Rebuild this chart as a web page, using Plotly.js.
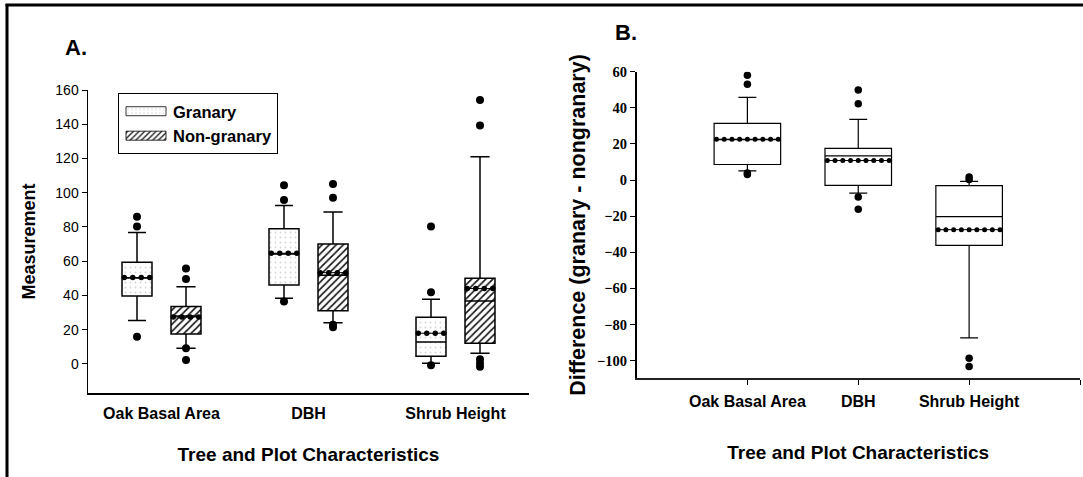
<!DOCTYPE html>
<html>
<head>
<meta charset="utf-8">
<script src="https://cdn.plot.ly/plotly-3.0.1.min.js"></script>
<style>html,body{margin:0;padding:0;background:#fff;}#chart{width:1083px;height:477px;}</style>
</head>
<body>
<div id="chart"></div>
<script>
// ---------- data ----------
const categories = ['Oak Basal Area', 'DBH', 'Shrub Height'];
const seriesNames = ['Granary', 'Non-granary'];

// Panel A: granary
const granQ1 = [39.7, 46.1, 4.5];
const granMedian = [50.2, 64.2, 12.8];
const granQ3 = [59.4, 79.0, 27.3];
const granLow = [25.3, 38.4, 0.4];
const granHigh = [76.7, 92.5, 37.8];
const granMean = [50.4, 64.6, 17.9];
const granOutliers = [[86.0, 80.2, 15.9], [104.3, 95.8, 36.4], [80.2, 41.9, -0.8]];

// Panel A: non-granary
const nonQ1 = [17.5, 31.1, 12.1];
const nonMedian = [28.0, 51.8, 36.8];
const nonQ3 = [33.5, 70.1, 50.0];
const nonLow = [9.2, 24.1, 6.2];
const nonHigh = [45.1, 88.8, 121.0];
const nonMean = [27.4, 53.3, 44.0];
const nonOutliers = [[55.7, 49.6, 9.2, 2.3], [105.1, 97.1, 22.8, 21.4], [154.2, 139.2, 2.7, 0.4, -1.6]];

// Panel B: difference (granary - nongranary)
const diffQ1 = [8.6, -2.9, -36.2];
const diffMedian = [22.4, 13.4, -20.3];
const diffQ3 = [31.4, 17.5, -3.1];
const diffLow = [5.1, -7.2, -87.4];
const diffHigh = [45.8, 33.6, -0.7];
const diffMean = [22.6, 10.8, -27.5];
const diffOutliers = [[58.0, 53.0, 3.9, 3.0], [49.8, 42.2, -9.4, -16.2], [1.7, 0.3, -98.7, -103.3]];

// ---------- helpers ----------
const idx = categories.map((c, i) => i);
const offA = 1 / 6, widthA = 0.204, widthB = 0.6;
const posGran = idx.map(i => i - offA);
const posNon = idx.map(i => i + offA);

function meanDots(centers, width, means, n, span) {
  const xs = [], ys = [];
  centers.forEach((c, i) => {
    for (let k = 0; k < n; k++) {
      xs.push(c - span * width / 2 + k * span * width / (n - 1));
      ys.push(means[i]);
    }
    xs.push(null); ys.push(null);
  });
  return {xs, ys};
}
function flatOutliers(centers, outs) {
  const xs = [], ys = [];
  centers.forEach((c, i) => outs[i].forEach(v => { xs.push(c); ys.push(v); }));
  return {xs, ys};
}

const black = '#000';
const traces = [];

// pattern fills (legend entries) for panel A
traces.push({
  type: 'bar', name: seriesNames[0], x: posGran, base: granQ1,
  y: granQ3.map((v, i) => v - granQ1[i]), width: widthA,
  marker: {color: '#fff', line: {width: 0},
           pattern: {shape: '.', fgcolor: '#d4d4d4', bgcolor: '#fff', size: 5, solidity: 0.1}},
  xaxis: 'x', yaxis: 'y', hoverinfo: 'skip'
});
traces.push({
  type: 'bar', name: seriesNames[1], x: posNon, base: nonQ1,
  y: nonQ3.map((v, i) => v - nonQ1[i]), width: widthA,
  marker: {color: '#fff', line: {width: 0},
           pattern: {shape: '/', fgcolor: '#111', bgcolor: '#fff', size: 5, solidity: 0.32}},
  xaxis: 'x', yaxis: 'y', hoverinfo: 'skip'
});

// boxes panel A
function boxTrace(pos, q1, med, q3, lo, hi, w, ww, lw, fill, xa, ya) {
  return {type: 'box', x: pos, q1: q1, median: med, q3: q3, lowerfence: lo, upperfence: hi,
          width: w, whiskerwidth: ww, boxpoints: false, fillcolor: fill,
          line: {color: black, width: lw}, showlegend: false, xaxis: xa, yaxis: ya, hoverinfo: 'skip'};
}
traces.push(boxTrace(posGran, granQ1, granMedian, granQ3, granLow, granHigh, widthA, 0.6, 1.5, 'rgba(0,0,0,0)', 'x', 'y'));
traces.push(boxTrace(posNon, nonQ1, nonMedian, nonQ3, nonLow, nonHigh, widthA, 0.64, 1.5, 'rgba(0,0,0,0)', 'x', 'y'));
// box panel B
traces.push(boxTrace(idx, diffQ1, diffMedian, diffQ3, diffLow, diffHigh, widthB, 0.27, 1.2, '#fff', 'x2', 'y2'));

// mean dotted lines
function meanTrace(centers, width, means, n, span, size, xa, ya) {
  const d = meanDots(centers, width, means, n, span);
  return {type: 'scatter', mode: 'lines+markers', x: d.xs, y: d.ys, connectgaps: false,
          line: {color: black, width: 1}, marker: {color: black, size: size},
          showlegend: false, xaxis: xa, yaxis: ya, hoverinfo: 'skip'};
}
traces.push(meanTrace(posGran, widthA, granMean, 4, 0.85, 5.5, 'x', 'y'));
traces.push(meanTrace(posNon, widthA, nonMean, 4, 0.85, 5.5, 'x', 'y'));
traces.push(meanTrace(idx, widthB, diffMean, 9, 0.93, 5, 'x2', 'y2'));

// outliers
function outTrace(centers, outs, size, xa, ya) {
  const d = flatOutliers(centers, outs);
  return {type: 'scatter', mode: 'markers', x: d.xs, y: d.ys,
          marker: {color: black, size: size}, showlegend: false, xaxis: xa, yaxis: ya, hoverinfo: 'skip'};
}
traces.push(outTrace(posGran, granOutliers, 8, 'x', 'y'));
traces.push(outTrace(posNon, nonOutliers, 8, 'x', 'y'));
traces.push(outTrace(idx, diffOutliers, 7.5, 'x2', 'y2'));

const W = 1083, H = 477;
const sans = 'Liberation Sans, Arial, sans-serif';
const serif = 'Liberation Serif, Times New Roman, serif';

const layout = {
  width: W, height: H,
  margin: {l: 0, r: 0, t: 0, b: 0},
  paper_bgcolor: '#fff', plot_bgcolor: 'rgba(0,0,0,0)',
  barmode: 'overlay',
  font: {family: sans, color: black},
  showlegend: true,
  legend: {
    x: 118 / W, y: 1 - 93 / H, xanchor: 'left', yanchor: 'top',
    bgcolor: '#fff', bordercolor: black, borderwidth: 1,
    font: {family: sans, size: 16.5, weight: 'bold', color: black},
    itemwidth: 44, traceorder: 'normal', tracegroupgap: 0
  },
  xaxis: {
    domain: [88 / W, 529 / W], range: [-0.5, 2.5],
    tickvals: idx, ticktext: categories, ticks: '',
    tickfont: {family: sans, size: 16, weight: 'bold', color: black},
    ticklabelstandoff: 5,
    showline: true, linecolor: black, linewidth: 1.8, showgrid: false, zeroline: false,
    anchor: 'y',
    title: {text: 'Tree and Plot Characteristics', font: {family: sans, size: 19, weight: 'bold', color: black}, standoff: 27}
  },
  yaxis: {
    domain: [1 - 393 / H, 1 - 90 / H], range: [-17, 160],
    tick0: 0, dtick: 20, ticks: 'outside', ticklen: 5, tickcolor: black, tickwidth: 1,
    tickfont: {family: sans, size: 14, color: black},
    showline: true, linecolor: black, linewidth: 1.5, showgrid: false, zeroline: false,
    anchor: 'x',
    title: {text: 'Measurement', font: {family: sans, size: 18, weight: 'bold', color: black}, standoff: 15}
  },
  xaxis2: {
    domain: [636.5 / W, 1080 / W], range: [-1, 3],
    tickvals: idx.concat([categories.length]), ticktext: categories.concat(['']),
    ticks: 'outside', ticklen: 5, tickcolor: black,
    tickfont: {family: sans, size: 16, weight: 'bold', color: black},
    ticklabelstandoff: 3,
    showline: true, linecolor: '#222', linewidth: 1.5, showgrid: false, zeroline: false,
    anchor: 'y2',
    title: {text: 'Tree and Plot Characteristics', font: {family: sans, size: 19, weight: 'bold', color: black}, standoff: 36}
  },
  yaxis2: {
    domain: [1 - 378.3 / H, 1 - 71.7 / H], range: [-109.8, 60],
    tick0: 0, dtick: 20, ticks: 'outside', ticklen: 5, tickcolor: black,
    tickfont: {family: serif, size: 14.5, weight: 'bold', color: black},
    showline: true, linecolor: black, linewidth: 1.5, showgrid: false, zeroline: false,
    anchor: 'x2',
    title: {text: 'Difference (granary - nongranary)', font: {family: sans, size: 21.5, weight: 'bold', color: black}, standoff: 5}
  },
  annotations: [
    {text: 'A.', xref: 'paper', yref: 'paper', x: 76 / W, y: 1 - 47.5 / H, xanchor: 'center', yanchor: 'middle',
     showarrow: false, font: {family: sans, size: 22, weight: 'bold', color: black}},
    {text: 'B.', xref: 'paper', yref: 'paper', x: 626 / W, y: 1 - 32 / H, xanchor: 'center', yanchor: 'middle',
     showarrow: false, font: {family: sans, size: 22, weight: 'bold', color: black}}
  ],
  shapes: [
    {type: 'line', xref: 'paper', yref: 'paper', x0: 7 / W, x1: 7 / W, y0: 0, y1: 1 - 4 / H, line: {color: black, width: 3}},
    {type: 'line', xref: 'paper', yref: 'paper', x0: 5.5 / W, x1: 1, y0: 1 - 5 / H, y1: 1 - 5 / H, line: {color: black, width: 3}}
  ]
};

Plotly.newPlot('chart', traces, layout, {staticPlot: true, displayModeBar: false}).then(function () {
  // widen the legend swatches to match the original's rectangular keys
  document.querySelectorAll('.legend .legendpoints path').forEach(function (p) {
    p.setAttribute('d', 'M20,4.5H-20V-4.5H20Z');
    p.style.stroke = '#000';
    p.style.strokeWidth = '0.8px';
  });
});
</script>
</body>
</html>
